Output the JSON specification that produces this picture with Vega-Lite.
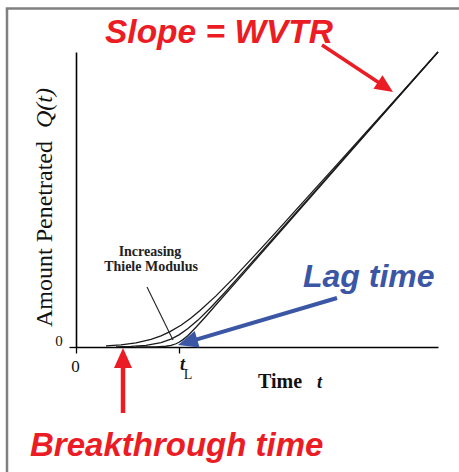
{
  "$schema": "https://vega.github.io/schema/vega-lite/v6.json",
  "width": 362,
  "height": 295,
  "autosize": {"type": "none"},
  "padding": {"left": 76, "top": 52, "right": 21, "bottom": 125},
  "background": "white",
  "config": {"view": {"stroke": null}},
  "datasets": {
    "curves": [
      {"curve": "A", "x": 30, "y": 1.1}, {"curve": "A", "x": 45, "y": 2.2}, {"curve": "A", "x": 60, "y": 4.2}, {"curve": "A", "x": 75, "y": 7.7}, {"curve": "A", "x": 85, "y": 11.2}, {"curve": "A", "x": 94, "y": 15.4}, {"curve": "A", "x": 105, "y": 21.8}, {"curve": "A", "x": 115, "y": 29.0}, {"curve": "A", "x": 124, "y": 36.4}, {"curve": "A", "x": 140, "y": 51.1}, {"curve": "A", "x": 157, "y": 68.4}, {"curve": "A", "x": 181, "y": 94.1}, {"curve": "A", "x": 200, "y": 114.9}, {"curve": "A", "x": 220, "y": 137.1}, {"curve": "A", "x": 260, "y": 181.4}, {"curve": "A", "x": 300, "y": 225.9}, {"curve": "A", "x": 362, "y": 295},
      {"curve": "B", "x": 40, "y": 0.2}, {"curve": "B", "x": 55, "y": 0.6}, {"curve": "B", "x": 70, "y": 1.6}, {"curve": "B", "x": 85, "y": 4.4}, {"curve": "B", "x": 95, "y": 7.9}, {"curve": "B", "x": 103, "y": 12.1}, {"curve": "B", "x": 112, "y": 18.4}, {"curve": "B", "x": 122, "y": 26.9}, {"curve": "B", "x": 135, "y": 39.8}, {"curve": "B", "x": 150, "y": 55.8}, {"curve": "B", "x": 170, "y": 78.1}, {"curve": "B", "x": 200, "y": 111.9}, {"curve": "B", "x": 250, "y": 168.4}, {"curve": "B", "x": 300, "y": 224.9}, {"curve": "B", "x": 362, "y": 295},
      {"curve": "C", "x": 60, "y": 0}, {"curve": "C", "x": 80, "y": 0.15}, {"curve": "C", "x": 90, "y": 0.74}, {"curve": "C", "x": 95, "y": 1.6}, {"curve": "C", "x": 100, "y": 3.24}, {"curve": "C", "x": 103, "y": 4.74}, {"curve": "C", "x": 107, "y": 7.39}, {"curve": "C", "x": 112, "y": 11.6}, {"curve": "C", "x": 120, "y": 19.75}, {"curve": "C", "x": 130, "y": 30.8}, {"curve": "C", "x": 140, "y": 42.2}, {"curve": "C", "x": 160, "y": 64.9}, {"curve": "C", "x": 200, "y": 110.5}, {"curve": "C", "x": 250, "y": 167.4}, {"curve": "C", "x": 300, "y": 224.4}, {"curve": "C", "x": 362, "y": 295}
    ],
    "frame": [
      {"x": -69, "y": 338.4, "x2": -69, "y2": -130},
      {"x": -70.2, "y": 338.4, "x2": 390, "y2": 338.4}
    ],
    "pointer": [{"x": 71, "y": 60, "x2": 97, "y2": 7}],
    "slopeShaft": [{"x": 246, "y": 302, "x2": 308.7, "y2": 260.5}],
    "slopeHead": [{"x": 317, "y": 255}],
    "btShaft": [{"x": 47, "y": -66, "x2": 47, "y2": -11}],
    "btHead": [{"x": 47, "y": -1}],
    "lagShaft": [{"x": 261, "y": 49, "x2": 111.6, "y2": 4.8}],
    "lagHead": [{"x": 102, "y": 2}],
    "texts": [
      {"key": "slope", "text": "Slope = WVTR", "x": 29, "y": 303.7},
      {"key": "lag", "text": "Lag time", "x": 227, "y": 60},
      {"key": "bt", "text": "Breakthrough time", "x": -46, "y": -109},
      {"key": "thiele", "text": "Increasing", "x": 74, "y": 91},
      {"key": "thiele", "text": "Thiele Modulus", "x": 75, "y": 76.3},
      {"key": "time", "text": "Time", "x": 182, "y": -41},
      {"key": "timeT", "text": "t", "x": 241, "y": -41},
      {"key": "ytitle", "text": "Amount Penetrated", "x": -24, "y": 20},
      {"key": "ytitleQ", "text": "Q(t)", "x": -24, "y": 219},
      {"key": "zeroY", "text": "0", "x": -17, "y": 6},
      {"key": "zeroX", "text": "0", "x": -0.5, "y": -25},
      {"key": "tl", "text": "t", "x": 104, "y": -23},
      {"key": "tlSub", "text": "L", "x": 112, "y": -32}
    ]
  },
  "encoding": {
    "x": {"field": "x", "type": "quantitative", "scale": {"domain": [0, 362], "nice": false, "zero": false},
      "axis": {"values": [0, 103], "labels": false, "title": null, "grid": false, "tickSize": 6, "tickColor": "#000", "tickWidth": 1.3, "domainColor": "#000", "domainWidth": 1.6}},
    "y": {"field": "y", "type": "quantitative", "scale": {"domain": [0, 295], "nice": false, "zero": false},
      "axis": {"values": [0], "labels": false, "title": null, "grid": false, "tickSize": 7, "tickColor": "#000", "tickWidth": 1.3, "domainColor": "#000", "domainWidth": 1.6}}
  },
  "layer": [
    {"data": {"name": "frame"}, "mark": {"type": "rule", "color": "#808080", "strokeWidth": 2.5},
      "encoding": {"x2": {"field": "x2"}, "y2": {"field": "y2"}}},
    {"data": {"name": "curves"}, "mark": {"type": "line", "color": "#1a1a1a", "strokeWidth": 1.3},
      "encoding": {"detail": {"field": "curve"}}},
    {"data": {"name": "pointer"}, "mark": {"type": "rule", "color": "#222", "strokeWidth": 1.1},
      "encoding": {"x2": {"field": "x2"}, "y2": {"field": "y2"}}},
    {"data": {"name": "slopeShaft"}, "mark": {"type": "rule", "color": "#ec1c24", "strokeWidth": 3.5},
      "encoding": {"x2": {"field": "x2"}, "y2": {"field": "y2"}}},
    {"data": {"name": "slopeHead"}, "mark": {"type": "point", "shape": "M0,0L-0.45,1L0.45,1Z", "size": 1300, "filled": true, "color": "#ec1c24", "opacity": 1, "angle": 123.5}},
    {"data": {"name": "btShaft"}, "mark": {"type": "rule", "color": "#ec1c24", "strokeWidth": 4.5},
      "encoding": {"x2": {"field": "x2"}, "y2": {"field": "y2"}}},
    {"data": {"name": "btHead"}, "mark": {"type": "point", "shape": "M0,0L-0.45,1L0.45,1Z", "size": 1600, "filled": true, "color": "#ec1c24", "opacity": 1, "angle": 0}},
    {"data": {"name": "lagShaft"}, "mark": {"type": "rule", "color": "#3a56a5", "strokeWidth": 4},
      "encoding": {"x2": {"field": "x2"}, "y2": {"field": "y2"}}},
    {"data": {"name": "lagHead"}, "mark": {"type": "point", "shape": "M0,0L-0.43,1L0.43,1Z", "size": 1600, "filled": true, "color": "#3a56a5", "opacity": 1, "angle": 253.5}},
    {"data": {"name": "texts"}, "transform": [{"filter": "datum.key === 'slope'"}],
      "mark": {"type": "text", "font": "Liberation Sans", "fontSize": 33.5, "fontWeight": "bold", "fontStyle": "italic", "color": "#ec1c24", "align": "left", "baseline": "alphabetic"},
      "encoding": {"text": {"field": "text"}}},
    {"data": {"name": "texts"}, "transform": [{"filter": "datum.key === 'bt'"}],
      "mark": {"type": "text", "font": "Liberation Sans", "fontSize": 33, "fontWeight": "bold", "fontStyle": "italic", "color": "#ec1c24", "align": "left", "baseline": "alphabetic"},
      "encoding": {"text": {"field": "text"}}},
    {"data": {"name": "texts"}, "transform": [{"filter": "datum.key === 'lag'"}],
      "mark": {"type": "text", "font": "Liberation Sans", "fontSize": 32, "fontWeight": "bold", "fontStyle": "italic", "color": "#3a56a5", "align": "left", "baseline": "alphabetic"},
      "encoding": {"text": {"field": "text"}}},
    {"data": {"name": "texts"}, "transform": [{"filter": "datum.key === 'thiele'"}],
      "mark": {"type": "text", "font": "Liberation Serif", "fontSize": 14, "fontWeight": "bold", "color": "#222", "align": "center", "baseline": "alphabetic"},
      "encoding": {"text": {"field": "text"}}},
    {"data": {"name": "texts"}, "transform": [{"filter": "datum.key === 'time'"}],
      "mark": {"type": "text", "font": "Liberation Serif", "fontSize": 20, "fontWeight": "bold", "color": "#111", "align": "left", "baseline": "alphabetic"},
      "encoding": {"text": {"field": "text"}}},
    {"data": {"name": "texts"}, "transform": [{"filter": "datum.key === 'timeT' || datum.key === 'tl'"}],
      "mark": {"type": "text", "font": "Liberation Serif", "fontSize": 18, "fontStyle": "italic", "fontWeight": "bold", "color": "#111", "align": "left", "baseline": "alphabetic"},
      "encoding": {"text": {"field": "text"}}},
    {"data": {"name": "texts"}, "transform": [{"filter": "datum.key === 'tlSub'"}],
      "mark": {"type": "text", "font": "Liberation Serif", "fontSize": 14, "color": "#111", "align": "center", "baseline": "alphabetic"},
      "encoding": {"text": {"field": "text"}}},
    {"data": {"name": "texts"}, "transform": [{"filter": "datum.key === 'ytitle'"}],
      "mark": {"type": "text", "font": "Liberation Serif", "fontSize": 24, "color": "#111", "align": "left", "baseline": "alphabetic", "angle": 270},
      "encoding": {"text": {"field": "text"}}},
    {"data": {"name": "texts"}, "transform": [{"filter": "datum.key === 'ytitleQ'"}],
      "mark": {"type": "text", "font": "Liberation Serif", "fontSize": 24, "fontStyle": "italic", "color": "#111", "align": "left", "baseline": "alphabetic", "angle": 270},
      "encoding": {"text": {"field": "text"}}},
    {"data": {"name": "texts"}, "transform": [{"filter": "datum.key === 'zeroY'"}],
      "mark": {"type": "text", "font": "Liberation Serif", "fontSize": 15, "color": "#111", "align": "center", "baseline": "middle"},
      "encoding": {"text": {"field": "text"}}},
    {"data": {"name": "texts"}, "transform": [{"filter": "datum.key === 'zeroX'"}],
      "mark": {"type": "text", "font": "Liberation Serif", "fontSize": 17, "color": "#111", "align": "center", "baseline": "alphabetic"},
      "encoding": {"text": {"field": "text"}}}
  ]
}
